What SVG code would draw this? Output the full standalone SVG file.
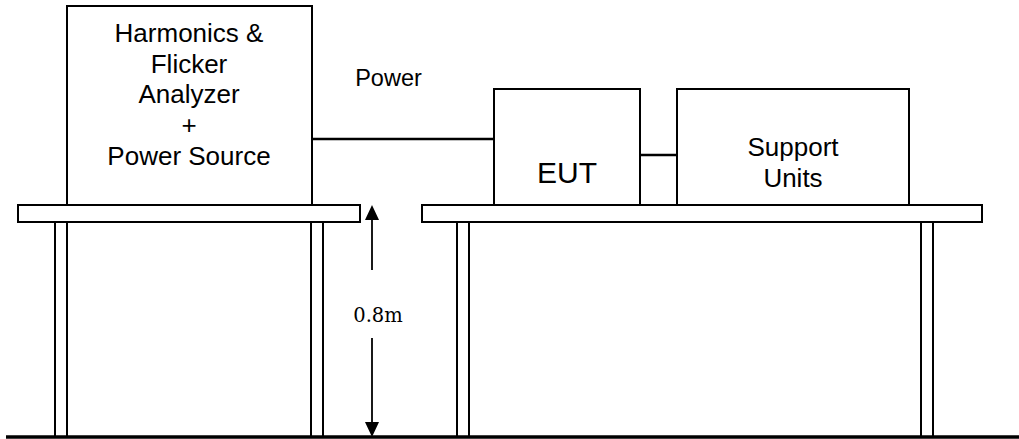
<svg xmlns="http://www.w3.org/2000/svg" width="1019" height="439" viewBox="0 0 1019 439">
  <style>
    .box { fill: #ffffff; stroke: #000000; stroke-width: 2; }
    .leg { fill: #ffffff; stroke: #000000; stroke-width: 2; }
    .wire { stroke: #000000; stroke-width: 2.5; fill: none; }
    .dim { stroke: #000000; stroke-width: 1.8; fill: none; }
    .sans { font-family: "Liberation Sans", Arial, sans-serif; fill: #000000; text-anchor: middle; }
    .serif { font-family: "DejaVu Serif", "Liberation Serif", serif; fill: #000000; text-anchor: middle; }
  </style>
  <rect x="0" y="0" width="1019" height="439" fill="#ffffff"/>

  <g id="table-left">
    <rect class="leg" x="55" y="222" width="12" height="215"/>
    <rect class="leg" x="311" y="222" width="12" height="215"/>
    <rect class="box" x="18" y="205" width="342" height="17"/>
  </g>

  <g id="table-right">
    <rect class="leg" x="457" y="222" width="12" height="215"/>
    <rect class="leg" x="921" y="222" width="12" height="215"/>
    <rect class="box" x="422" y="205" width="560" height="17"/>
  </g>

  <g id="ground">
    <line x1="6" y1="437" x2="1019" y2="437" stroke="#000000" stroke-width="3.5"/>
  </g>

  <g id="analyzer">
    <rect class="box" x="67" y="6" width="245" height="199"/>
    <text class="sans" font-size="26" x="189" y="42">Harmonics &amp;</text>
    <text class="sans" font-size="26" x="189" y="73">Flicker</text>
    <text class="sans" font-size="26" x="189" y="103">Analyzer</text>
    <text class="sans" font-size="26" x="189" y="134">+</text>
    <text class="sans" font-size="26" x="189" y="165">Power Source</text>
  </g>

  <g id="eut">
    <rect class="box" x="494" y="89" width="146" height="116"/>
    <text class="sans" font-size="30" x="567" y="183">EUT</text>
  </g>

  <g id="support">
    <rect class="box" x="677" y="89" width="232" height="116"/>
    <text class="sans" font-size="26" x="793" y="156">Support</text>
    <text class="sans" font-size="26" x="793" y="187">Units</text>
  </g>

  <g id="connectors">
    <line class="wire" x1="312" y1="139" x2="494" y2="139"/>
    <line class="wire" x1="640" y1="155" x2="677" y2="155"/>
    <text class="sans" font-size="23.5" x="388.5" y="86">Power</text>
  </g>

  <g id="height-dimension">
    <line class="dim" x1="372" y1="219" x2="372" y2="270"/>
    <polygon points="372,205 365,220 379,220" fill="#000000"/>
    <line class="dim" x1="372" y1="338" x2="372" y2="423"/>
    <polygon points="372,437 365,422 379,422" fill="#000000"/>
    <text class="serif" font-size="19.5" x="378" y="322">0.8m</text>
  </g>
</svg>
